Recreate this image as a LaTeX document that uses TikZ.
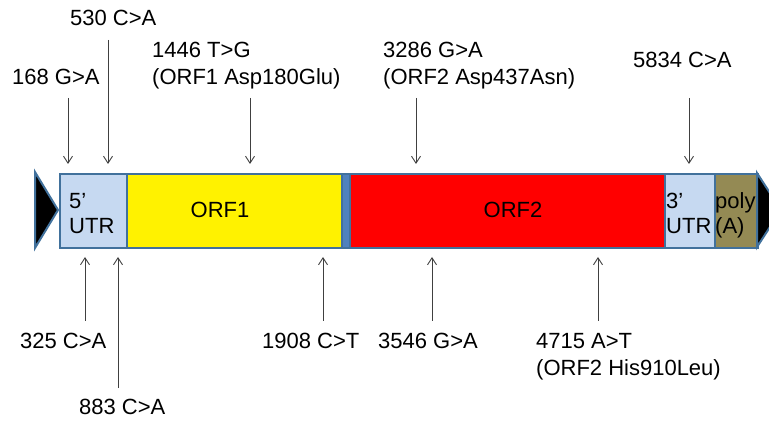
\documentclass[tikz,border=0pt]{standalone}
\usepackage{fontspec}
\setmainfont{Liberation Sans}
\usetikzlibrary{arrows.meta}
\definecolor{utrblue}{HTML}{C6D9F1}
\definecolor{edgeblue}{HTML}{41719C}
\definecolor{stripblue}{HTML}{4F81BD}
\definecolor{polyA}{HTML}{948A54}
\definecolor{arrowgray}{HTML}{404040}
\begin{document}
\begin{tikzpicture}[x=1pt,y=-1pt,
  seg/.style={draw=edgeblue, line width=2pt, rectangle, inner sep=0pt, anchor=north west, minimum height=74pt},
  lbl/.style={inner sep=0pt, anchor=base west, align=left, text=black, font=\fontsize{22}{27}\selectfont},
  inlbl/.style={inner sep=0pt, anchor=base west, align=left, text=black, font=\fontsize{22}{25}\selectfont},
  cen/.style={inner sep=0pt, anchor=center, text=black, font=\fontsize{22}{25}\selectfont},
  mut/.style={draw=arrowgray, line width=0.9pt, -{Straight Barb[length=7pt,width=9pt]}},
  tri/.style={draw=edgeblue, line width=2pt, fill=black, line join=miter}]
\useasboundingbox (0,0) rectangle (769,422);

% genome segments
\node[seg, fill=utrblue, minimum width=67pt] (utr5) at (59,173) {};
\node[seg, fill=yellow, minimum width=215pt] (orf1) at (126,173) {};
\node[seg, fill=stripblue, minimum width=8pt] (strip) at (341,173) {};
\node[seg, fill=red, minimum width=315pt] (orf2) at (349,173) {};
\node[seg, fill=utrblue, minimum width=50pt] (utr3) at (664,173) {};
\node[seg, fill=polyA, minimum width=43pt] (polya) at (714,173) {};

% end triangles
\draw[tri] (35,172) -- (58,210) -- (35,248) -- cycle;
\draw[tri] (757,173) -- (781,210) -- (757,247) -- cycle;

% segment labels (base anchor = baseline of last line)
\node[inlbl] (t5utr) at (69,233.5) {5’\\UTR};
\node[cen] (torf1) at (220,210) {ORF1};
\node[cen] (torf2) at (513,210) {ORF2};
\node[inlbl] (t3utr) at (666,233.5) {3’\\UTR};
\node[inlbl] (tpoly) at (715,233.5) {poly\\(A)};

% upper mutation labels
\node[lbl] (m530) at (70,25.5) {530 C>A};
\node[lbl] (m168) at (12,84.5) {168 G>A};
\node[lbl] (m1446) at (152,84.5) {1446 T>G\\(ORF1 Asp180Glu)};
\node[lbl] (m3286) at (383,84.5) {3286 G>A\\(ORF2 Asp437Asn)};
\node[lbl] (m5834) at (633,67.5) {5834 C>A};

% lower mutation labels
\node[lbl] (m325) at (20,348.5) {325 C>A};
\node[lbl] (m883) at (79,414.5) {883 C>A};
\node[lbl] (m1908) at (262,348.5) {1908 C>T};
\node[lbl] (m3546) at (378,348.5) {3546 G>A};
\node[lbl] (m4715) at (536,375.5) {4715 A>T\\(ORF2 His910Leu)};

% arrow end points
\coordinate (s168) at (68,98);   \coordinate (e168) at (68,164);
\coordinate (s530) at (108,40);  \coordinate (e530) at (108,164);
\coordinate (s1446) at (250,98); \coordinate (e1446) at (250,164);
\coordinate (s3286) at (416,98); \coordinate (e3286) at (416,164);
\coordinate (s5834) at (689,98); \coordinate (e5834) at (689,164);
\coordinate (s325) at (85,321);  \coordinate (e325) at (85,257);
\coordinate (s883) at (118,388); \coordinate (e883) at (118,257);
\coordinate (s1908) at (323,321); \coordinate (e1908) at (323,257);
\coordinate (s3546) at (432,321); \coordinate (e3546) at (432,257);
\coordinate (s4715) at (598,321); \coordinate (e4715) at (598,257);

\foreach \m in {168,530,1446,3286,5834,325,883,1908,3546,4715}
  \draw[mut] (s\m) -- (e\m);
\end{tikzpicture}
\end{document}
